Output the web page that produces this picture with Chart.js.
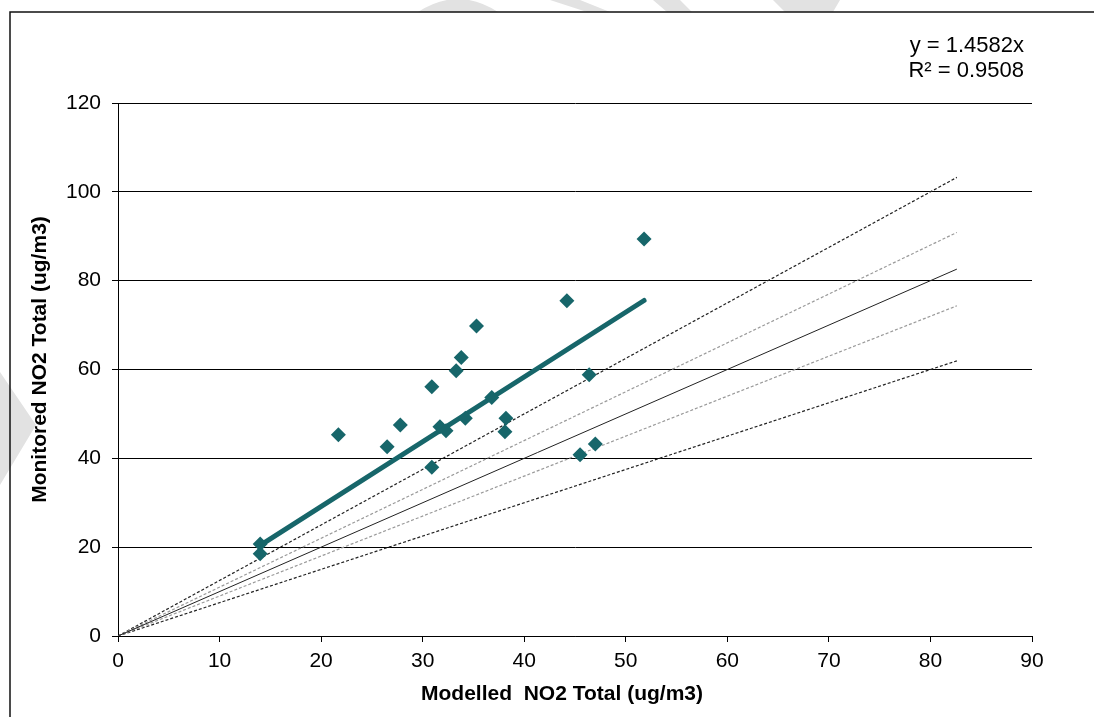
<!DOCTYPE html>
<html lang="en">
<head>
    <meta charset="UTF-8">
    <title>Modelled vs Monitored NO2</title>
    <script src="https://cdn.jsdelivr.net/npm/chart.js"></script>
    <style>
        html, body { margin: 0; padding: 0; background: #fff; }
    </style>
</head>
<body>
    <canvas id="myChart" width="1094" height="717"></canvas>
    <script>
        // Modelled and monitored NO2 totals (ug/m3), one pair per site
        const modelled  = [14.0, 14.0, 21.7, 26.5, 27.8, 30.9, 30.9, 31.7, 32.3, 33.3, 33.8,
                           34.2, 35.3, 36.8, 38.2, 38.1, 44.2, 45.5, 46.4, 47.0, 51.8];
        const monitored = [20.7, 18.5, 45.3, 42.6, 47.5, 56.1, 38.0, 47.1, 46.2, 59.7, 62.7,
                           49.0, 69.8, 53.7, 49.0, 46.0, 75.5, 40.8, 58.8, 43.2, 89.4];

        // Linear trend forced through zero
        const trendSlope = 1.4582;
        const trendR2 = 0.9508;

        // Reference lines from the origin: 1:1, +/-10% and +/-25%
        const refX      = [0, 82.6];
        const refOne    = [0, 82.6];
        const refPlus10 = [0, 90.86];
        const refMin10  = [0, 74.34];
        const refPlus25 = [0, 103.25];
        const refMin25  = [0, 61.95];

        const xTicks = [0, 10, 20, 30, 40, 50, 60, 70, 80, 90];
        const yTicks = [0, 20, 40, 60, 80, 100, 120];

        const xTitle = 'Modelled  NO2 Total (ug/m3)';
        const yTitle = 'Monitored NO2 Total (ug/m3)';

        const teal = '#17666a';
        const fontFamily = "'Liberation Sans', Arial, sans-serif";
        Chart.defaults.font.family = fontFamily;
        Chart.defaults.color = '#000';

        const pts = modelled.map((x, i) => ({ x: x, y: monitored[i] }));
        const xMin = Math.min(...modelled);
        const xMax = Math.max(...modelled);
        const trend = [
            { x: xMin, y: trendSlope * xMin },
            { x: xMax, y: trendSlope * xMax }
        ];
        const toLine = ys => refX.map((x, i) => ({ x: x, y: ys[i] }));

        function refLine(ys, color, dash) {
            return {
                data: toLine(ys),
                showLine: true,
                borderColor: color,
                borderWidth: 1.2,
                borderDash: dash,
                pointRadius: 0
            };
        }

        // faint watermark peeking round the frame, the frame, then titles and trend label
        const frame = {
            id: 'frame',
            beforeDraw(chart) {
                const c = chart.ctx;
                c.save();
                c.fillStyle = '#e2e2e2';
                c.beginPath();
                c.moveTo(418, 12); c.quadraticCurveTo(458, -14, 498, 12); c.closePath();
                c.moveTo(550, 0); c.lineTo(580, 0); c.lineTo(610, 12); c.lineTo(587, 12); c.closePath();
                c.moveTo(653, 0); c.lineTo(680, 0); c.lineTo(692, 12); c.lineTo(667, 12); c.closePath();
                c.moveTo(773, 0); c.lineTo(840, 0); c.lineTo(833, 12); c.lineTo(785, 12); c.closePath();
                c.moveTo(0, 372); c.lineTo(36, 425); c.lineTo(0, 485); c.closePath();
                c.fill();
                c.strokeStyle = '#111';
                c.lineWidth = 1.5;
                c.beginPath();
                c.moveTo(10, 717); c.lineTo(10, 12); c.lineTo(1094, 12);
                c.stroke();
                c.restore();
            },
            afterDraw(chart) {
                const c = chart.ctx;
                const a = chart.chartArea;
                c.save();
                c.fillStyle = '#000';
                c.textBaseline = 'middle';

                c.font = "bold 21px " + fontFamily;
                c.textAlign = 'center';
                c.fillText(xTitle, (a.left + a.right) / 2 - 13, a.bottom + 58);
                c.translate(40, (a.top + a.bottom) / 2 - 10);
                c.rotate(-Math.PI / 2);
                c.fillText(yTitle, 0, 0);
                c.setTransform(1, 0, 0, 1, 0, 0);

                c.font = "22px " + fontFamily;
                c.textAlign = 'right';
                c.fillText('y = ' + trendSlope + 'x', a.right - 8, a.top - 57);
                c.fillText('R\u00b2 = ' + trendR2, a.right - 8, a.top - 32);
                c.restore();
            }
        };

        new Chart(document.getElementById('myChart'), {
            type: 'scatter',
            data: {
                datasets: [
                    {
                        data: pts,
                        pointStyle: 'rectRot',
                        pointRadius: 7.5,
                        backgroundColor: teal,
                        borderWidth: 0
                    },
                    {
                        data: trend,
                        showLine: true,
                        borderColor: teal,
                        borderWidth: 5,
                        borderCapStyle: 'round',
                        pointRadius: 0
                    },
                    {
                        data: toLine(refOne),
                        showLine: true,
                        borderColor: '#222',
                        borderWidth: 1,
                        pointRadius: 0
                    },
                    refLine(refPlus10, '#9a9a9a', [3, 2]),
                    refLine(refMin10, '#9a9a9a', [3, 2]),
                    refLine(refPlus25, '#222', [3, 2]),
                    refLine(refMin25, '#222', [3, 2])
                ]
            },
            options: {
                responsive: false,
                animation: false,
                devicePixelRatio: 1,
                layout: { padding: { left: 28, top: 103, right: 62, bottom: 0 } },
                plugins: {
                    legend: { display: false },
                    tooltip: { enabled: false }
                },
                scales: {
                    x: {
                        type: 'linear',
                        min: xTicks[0],
                        max: xTicks[xTicks.length - 1],
                        afterBuildTicks: s => { s.ticks = xTicks.map(v => ({ value: v })); },
                        afterFit: s => { s.height = 81; },
                        ticks: { font: { size: 21 }, padding: 7, color: '#000' },
                        grid: { drawOnChartArea: false, drawTicks: true, tickLength: 6, color: '#000' },
                        border: { color: '#000', width: 1 }
                    },
                    y: {
                        min: yTicks[0],
                        max: yTicks[yTicks.length - 1],
                        afterBuildTicks: s => { s.ticks = yTicks.map(v => ({ value: v })); },
                        afterFit: s => { s.width = 90; },
                        ticks: { font: { size: 21 }, padding: 11, color: '#000' },
                        grid: { color: '#000', lineWidth: 1, tickLength: 6 },
                        border: { color: '#000', width: 1 }
                    }
                }
            },
            plugins: [frame]
        });
    </script>
</body>
</html>
